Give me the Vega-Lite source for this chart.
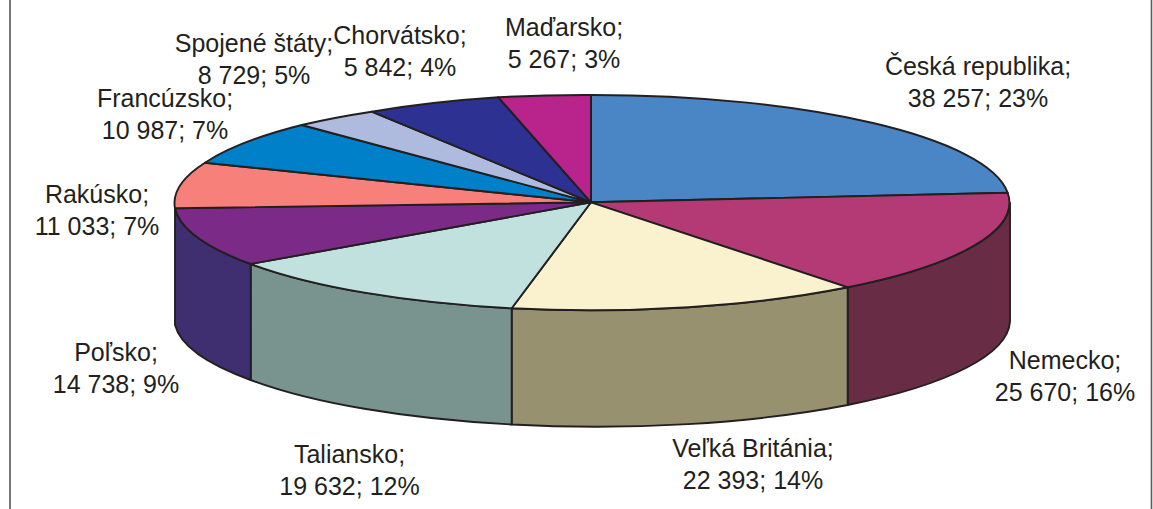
{
"$schema":"https://vega.github.io/schema/vega-lite/v6.json",
"width":1153,"height":509,"padding":0,"autosize":{"type":"none"},
"background":"#ffffff",
"view":{"stroke":null},
"data":{"values":[
{"country":"Česká republika","value":38257,"share":23,"label":"Česká republika;\n38 257; 23%"},
{"country":"Nemecko","value":25670,"share":16,"label":"Nemecko;\n25 670; 16%"},
{"country":"Veľká Británia","value":22393,"share":14,"label":"Veľká Británia;\n22 393; 14%"},
{"country":"Taliansko","value":19632,"share":12,"label":"Taliansko;\n19 632; 12%"},
{"country":"Poľsko","value":14738,"share":9,"label":"Poľsko;\n14 738; 9%"},
{"country":"Rakúsko","value":11033,"share":7,"label":"Rakúsko;\n11 033; 7%"},
{"country":"Francúzsko","value":10987,"share":7,"label":"Francúzsko;\n10 987; 7%"},
{"country":"Spojené štáty","value":8729,"share":5,"label":"Spojené štáty;\n8 729; 5%"},
{"country":"Chorvátsko","value":5842,"share":4,"label":"Chorvátsko;\n5 842; 4%"},
{"country":"Maďarsko","value":5267,"share":3,"label":"Maďarsko;\n5 267; 3%"}
]},
"resolve":{"scale":{"shape":"independent","fill":"independent","x":"independent","y":"independent"}},
"layer":[
{"data":{"values":[{"frame":"border"}]},
 "mark":{"type":"point","filled":false,"size":4,"stroke":"#58595b","strokeWidth":1.6,"opacity":1,
  "shape":"M-566.5 -254.5 L-566.5 254.5 M575 -254.5 L575 254.5"}},
{"transform":[{"filter":{"field":"country","oneOf":["Nemecko","Veľká Británia","Taliansko","Poľsko"]}}],
 "mark":{"type":"point","filled":true,"size":4,"stroke":"#231f20","strokeWidth":1.9,"opacity":1,"strokeJoin":"round"},
 "encoding":{
  "shape":{"field":"country","type":"nominal","legend":null,"scale":{"domain":["Nemecko","Veľká Británia","Taliansko","Poľsko"],"range":[
   "M271.2 32.8 A417.5 107.5 0 0 0 433.5 -51.5 L433.5 67 A417.5 107.5 0 0 1 271.2 150.5 Z",
   "M-64.8 53.8 A417.5 107.5 0 0 0 271.2 32.8 L271.2 150.5 A417.5 107.5 0 0 1 -64.8 170 Z",
   "M-325.8 9.5 A417.5 107.5 0 0 0 -64.8 53.8 L-64.8 170 A417.5 107.5 0 0 1 -325.8 125.5 Z",
   "M-401.5 -46.2 A417.5 107.5 0 0 0 -325.8 9.5 L-325.8 125.5 A417.5 107.5 0 0 1 -401.5 70.5 Z"]}},
  "fill":{"field":"country","type":"nominal","legend":null,"scale":{"domain":["Nemecko","Veľká Británia","Taliansko","Poľsko"],"range":["#682d45","#979170","#79938f","#3f2e70"]}}
 }},
{"mark":{"type":"point","filled":true,"size":4,"stroke":"#231f20","strokeWidth":1.9,"opacity":1,"strokeJoin":"round"},
 "encoding":{
  "shape":{"field":"country","type":"nominal","legend":null,"scale":{"domain":["Česká republika","Nemecko","Veľká Británia","Taliansko","Poľsko","Rakúsko","Francúzsko","Spojené štáty","Chorvátsko","Maďarsko"],"range":[
   "M14.5 -52.2 L14.5 -159.5 A417.5 107.5 0 0 1 431.2 -61.8 Z",
   "M14.5 -52.2 L431.2 -61.8 A417.5 107.5 0 0 1 271.2 32.8 Z",
   "M14.5 -52.2 L271.2 32.8 A417.5 107.5 0 0 1 -64.8 53.8 Z",
   "M14.5 -52.2 L-64.8 53.8 A417.5 107.5 0 0 1 -325.8 9.5 Z",
   "M14.5 -52.2 L-325.8 9.5 A417.5 107.5 0 0 1 -401.5 -46.2 Z",
   "M14.5 -52.2 L-401.5 -46.2 A417.5 107.5 0 0 1 -371.5 -91.8 Z",
   "M14.5 -52.2 L-371.5 -91.8 A417.5 107.5 0 0 1 -274.8 -129.5 Z",
   "M14.5 -52.2 L-274.8 -129.5 A417.5 107.5 0 0 1 -204.8 -142.8 Z",
   "M14.5 -52.2 L-204.8 -142.8 A417.5 107.5 0 0 1 -78.2 -157.2 Z",
   "M14.5 -52.2 L-78.2 -157.2 A417.5 107.5 0 0 1 14.5 -159.5 Z"]}},
  "fill":{"field":"country","type":"nominal","legend":null,"scale":{"domain":["Česká republika","Nemecko","Veľká Británia","Taliansko","Poľsko","Rakúsko","Francúzsko","Spojené štáty","Chorvátsko","Maďarsko"],"range":["#4a86c5","#b43a76","#faf2ce","#c1e1de","#7b2a88","#f7807a","#0080c8","#aebbdf","#2d3192","#b8238c"]}}
 }},
{"mark":{"type":"text","font":"Liberation Sans","fontSize":25,"fill":"#231f20","align":"center","baseline":"alphabetic","lineBreak":"\n","lineHeight":32},
 "encoding":{
  "text":{"field":"label","type":"nominal"},
  "x":{"field":"value","type":"quantitative","axis":null,"scale":{"zero":false,"nice":false,"domain":[5267,5842,8729,10987,11033,14738,19632,22393,25670,38257],"range":[564,400,254,165,97,116,349.5,753,1065,978]}},
  "y":{"field":"value","type":"quantitative","axis":null,"scale":{"zero":false,"nice":false,"domain":[5267,5842,8729,10987,11033,14738,19632,22393,25670,38257],"range":[36,43.5,52,107,203,361,463,457,369,75]}}
 }}
]
}
